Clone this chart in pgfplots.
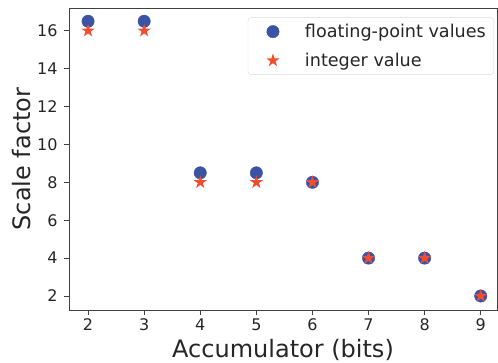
\documentclass[border=0pt]{standalone}
\usepackage{pgfplots}
\pgfplotsset{compat=1.18}
\usepackage{fontspec}
\setmainfont{DejaVu Sans}
\usetikzlibrary{plotmarks}
\definecolor{cblue}{HTML}{3A53A4}
\definecolor{cred}{HTML}{F04E2E}
\definecolor{ctext}{HTML}{262626}
\pgfdeclareplotmark{fstar}{%
  \pgfpathmoveto{\pgfpointpolar{90}{\pgfplotmarksize}}%
  \pgfpathlineto{\pgfpointpolar{126}{0.382\pgfplotmarksize}}%
  \pgfpathlineto{\pgfpointpolar{162}{\pgfplotmarksize}}%
  \pgfpathlineto{\pgfpointpolar{198}{0.382\pgfplotmarksize}}%
  \pgfpathlineto{\pgfpointpolar{234}{\pgfplotmarksize}}%
  \pgfpathlineto{\pgfpointpolar{270}{0.382\pgfplotmarksize}}%
  \pgfpathlineto{\pgfpointpolar{306}{\pgfplotmarksize}}%
  \pgfpathlineto{\pgfpointpolar{342}{0.382\pgfplotmarksize}}%
  \pgfpathlineto{\pgfpointpolar{18}{\pgfplotmarksize}}%
  \pgfpathlineto{\pgfpointpolar{54}{0.382\pgfplotmarksize}}%
  \pgfpathclose
  \pgfusepathqfill}
\begin{document}
\begin{tikzpicture}
\begin{axis}[
  name=ax,
  scale only axis,
  width=428pt, height=302pt,
  xmin=1.66, xmax=9.29,
  ymin=1.26, ymax=17.2,
  xtick={2,3,4,5,6,7,8,9},
  ytick={2,4,6,8,10,12,14,16},
  /pgf/number format/assume math mode=true,
  tick label style={font=\fontsize{16}{19}\selectfont, color=ctext},
  yticklabel style={xshift=-3pt},
  xlabel={Accumulator (bits)},
  ylabel={Scale factor},
  label style={font=\fontsize{24}{28}\selectfont, color=ctext, inner sep=0pt},
  xlabel style={at={(axis description cs:0.5,0)}, anchor=base, yshift=-47pt},
  ylabel style={at={(axis description cs:0,0.5)}, anchor=base, yshift=38pt},
  axis line style={black!75, line width=0.8pt},
  tick style={black!75, line width=0.8pt},
  tick align=outside,
  xtick pos=bottom, ytick pos=left,
  major tick length=5pt,
  legend style={at={(1,1)}, xshift=-3pt, yshift=-9.5pt, anchor=north east, font=\fontsize{17.6}{21}\selectfont,
    draw=black!15, rounded corners=3pt, inner xsep=8pt, inner ysep=6.5pt, row sep=14pt,
    text=ctext, nodes={inner sep=0pt},
    /tikz/every odd column/.append style={column sep=15pt}},
  legend cell align=left,
  legend image code/.code={\pgfpathrectangle{\pgfpoint{0pt}{-1pt}}{\pgfpoint{34pt}{2pt}}\pgfusepath{use as bounding box}\draw[#1] plot coordinates {(17pt,0pt)};},
]
\addplot[only marks, mark=*, mark size=6.2pt, color=cblue, mark options={draw=none, fill=cblue}]
  coordinates {(2,16.5) (3,16.5) (4,8.5) (5,8.5) (6,8) (7,4) (8,4) (9,2)};
\addlegendentry{floating-point values}
\addplot[only marks, mark=fstar, mark size=7pt, color=cred, mark options={draw=none, fill=cred}]
  coordinates {(2,16) (3,16) (4,8) (5,8) (6,8) (7,4) (8,4) (9,2)};
\addlegendentry{integer value}
\end{axis}
\path ([xshift=-69pt,yshift=-52pt]ax.south west) rectangle ([xshift=1pt,yshift=8pt]ax.north east);
\end{tikzpicture}
\end{document}
